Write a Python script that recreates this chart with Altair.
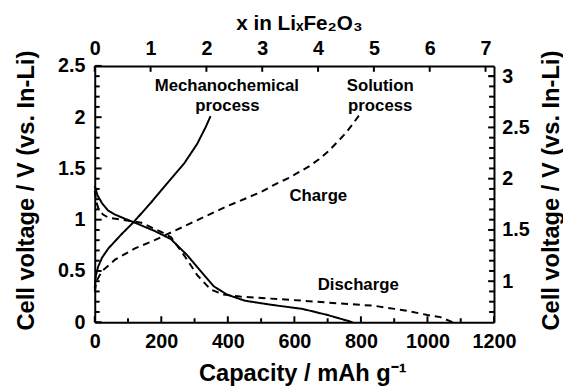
import altair as alt
import pandas as pd

# ---- data ----
# Mechanochemical process (solid lines)
mech_charge_cap = [0, 3, 10, 22, 41, 61, 81, 115, 170, 219, 269, 308, 333, 348]
mech_charge_v = [0.33, 0.45, 0.54, 0.63, 0.72, 0.79, 0.86, 0.97, 1.17, 1.36, 1.55, 1.74, 1.90, 2.01]
mech_dis_cap = [0, 8, 22, 40, 61, 90, 121, 180, 229, 279, 318, 358, 397, 451, 530, 624, 700, 775]
mech_dis_v = [1.33, 1.24, 1.16, 1.09, 1.05, 1.01, 0.97, 0.89, 0.81, 0.65, 0.50, 0.35, 0.27, 0.21, 0.17, 0.13, 0.07, 0.0]
# Solution process (dashed lines)
sol_charge_cap = [0, 5, 22, 61, 121, 180, 239, 318, 397, 456, 506, 545, 585, 644, 674, 703, 730, 753, 775, 797]
sol_charge_v = [0.30, 0.40, 0.50, 0.61, 0.72, 0.80, 0.89, 1.01, 1.13, 1.21, 1.28, 1.35, 1.41, 1.52, 1.59, 1.67, 1.76, 1.84, 1.93, 2.03]
sol_dis_cap = [0, 5, 12, 25, 41, 81, 140, 200, 229, 269, 308, 348, 387, 437, 530, 624, 750, 841, 901, 940, 1000, 1039, 1075]
sol_dis_v = [1.28, 1.17, 1.10, 1.05, 1.02, 1.00, 0.97, 0.88, 0.83, 0.65, 0.46, 0.32, 0.27, 0.25, 0.23, 0.21, 0.18, 0.16, 0.13, 0.11, 0.07, 0.05, 0.0]

# annotations (data coordinates)
ann_text = ["Mechanochemical", "process", "Solution", "process", "Charge", "Discharge"]
ann_cap = [397, 399, 858, 858, 672, 792]
ann_v = [2.30, 2.11, 2.30, 2.11, 1.23, 0.36]

# axes
cap_ticks = [0, 200, 400, 600, 800, 1000, 1200]
cap_minor = [100, 300, 500, 700, 900, 1100]
v_ticks = [0, 0.5, 1, 1.5, 2, 2.5]
v_minor = [0.1, 0.2, 0.3, 0.4, 0.6, 0.7, 0.8, 0.9, 1.1, 1.2, 1.3, 1.4,
           1.6, 1.7, 1.8, 1.9, 2.1, 2.2, 2.3, 2.4]
vr_ticks = [1, 1.5, 2, 2.5, 3]
vr_minor = [0.7, 0.8, 0.9, 1.1, 1.2, 1.3, 1.4, 1.6, 1.7, 1.8, 1.9,
            2.1, 2.2, 2.3, 2.4, 2.6, 2.7, 2.8, 2.9, 3.0]
x_ticks = [0, 1, 2, 3, 4, 5, 6, 7]
CAP_PER_LI = 167.8  # mAh/g per Li in Fe2O3
IN_LI_OFFSET = 0.6  # right-hand voltage scale = left + offset

rows = []
for name, proc, caps, vs in [
    ("mc", "Mechanochemical", mech_charge_cap, mech_charge_v),
    ("md", "Mechanochemical", mech_dis_cap, mech_dis_v),
    ("sc", "Solution", sol_charge_cap, sol_charge_v),
    ("sd", "Solution", sol_dis_cap, sol_dis_v),
]:
    for i, (c, v) in enumerate(zip(caps, vs)):
        rows.append({"curve": name, "process": proc, "cap": c, "v": v, "i": i})
df = pd.DataFrame(rows)
ann = pd.DataFrame({"txt": ann_text, "cap": ann_cap, "v": ann_v})

W, H = 405, 260
FONT = "Liberation Sans"
LBL = 20
TTL = 24

xs = alt.Scale(domain=[0, 1200], nice=False, zero=False)
ys = alt.Scale(domain=[0, 2.5], nice=False, zero=False)

common = dict(grid=False, labelFont=FONT, labelFontSize=LBL, labelFontWeight="bold",
              labelColor="black", domainColor="black", domainWidth=2, ticks=False,
              titleFont=FONT, titleFontWeight="bold", titleColor="black",
              labelOverlap=False)

lines = alt.Chart(df).mark_line(color="black", strokeWidth=2).encode(
    x=alt.X("cap:Q", scale=xs, axis=alt.Axis(
        orient="bottom", values=cap_ticks, labelFlush=False, labelPadding=10, format="d",
        title="Capacity / mAh g⁻¹", titleFontSize=TTL, titleX=W / 2 + 8, titleY=52,
        titleBaseline="middle", **common)),
    y=alt.Y("v:Q", scale=ys, axis=alt.Axis(
        orient="left", values=v_ticks, labelPadding=10, format="~g",
        title="Cell voltage / V (vs. In-Li)", titleFontSize=TTL, titleX=-69, titleY=126,
        titleAngle=270, titleBaseline="middle", **common)),
    detail="curve:N",
    order="i:Q",
    strokeDash=alt.StrokeDash("process:N", scale=alt.Scale(
        domain=["Mechanochemical", "Solution"], range=[[1, 0], [7, 5]]), legend=None),
)

texts = alt.Chart(ann).mark_text(font=FONT, fontSize=17, fontWeight="bold",
                                 color="black", baseline="middle").encode(
    x=alt.X("cap:Q", scale=xs, axis=None), y=alt.Y("v:Q", scale=ys, axis=None),
    text="txt:N")


def xticks(values, length, top=False, per_li=False):
    """Inward tick marks on the bottom (or top) frame edge, placed through the x scale."""
    caps = [round(t * CAP_PER_LI, 3) for t in values] if per_li else values
    y0 = 0 if top else H
    off = length / 2 if top else -length / 2
    return alt.Chart(pd.DataFrame({"cap": caps})).mark_tick(
        color="black", thickness=2, size=length, orient="vertical", yOffset=off,
        opacity=1).encode(
        x=alt.X("cap:Q", scale=xs, axis=None), y=alt.value(y0))


def yticks(values, length, right=False):
    """Inward tick marks on the left (or right) frame edge, placed through the y scale."""
    vs = [round(t - IN_LI_OFFSET, 3) for t in values] if right else values
    x0 = W if right else 0
    off = -length / 2 if right else length / 2
    return alt.Chart(pd.DataFrame({"v": vs})).mark_tick(
        color="black", thickness=2, size=length, orient="horizontal", xOffset=off,
        opacity=1).encode(
        y=alt.Y("v:Q", scale=ys, axis=None), x=alt.value(x0))


# right-hand axis (same scale, labels shifted by the In-Li offset)
vr_pos = [round(t - IN_LI_OFFSET, 3) for t in vr_ticks]
right_axis = alt.Chart(pd.DataFrame({"v": vr_pos})).mark_point(opacity=0).encode(
    y=alt.Y("v:Q", scale=ys, axis=alt.Axis(
        orient="right", values=vr_pos, labelPadding=8,
        labelExpr=f"format(datum.value + {IN_LI_OFFSET}, '~g')",
        title="Cell voltage / V (vs. In-Li)", titleFontSize=TTL, titleX=58,
        titleY=126, titleAngle=270, titleBaseline="middle", **common)))

# top axis: x in LixFe2O3 (same capacity scale)
xt_pos = [round(t * CAP_PER_LI, 3) for t in x_ticks]
top_axis = alt.Chart(pd.DataFrame({"cap": xt_pos})).mark_point(opacity=0).encode(
    x=alt.X("cap:Q", scale=xs, axis=alt.Axis(
        orient="top", values=xt_pos, labelFlush=False, labelPadding=8,
        labelExpr=f"format(round(datum.value / {CAP_PER_LI}), 'd')",
        title="x in LiₓFe₂O₃", titleFontSize=21, titleX=207, titleY=-43,
        titleBaseline="middle", **common)))

chart = alt.layer(
    lines, texts,
    xticks(cap_ticks, 6), xticks(cap_minor, 4),
    xticks(x_ticks, 6, top=True, per_li=True),
    yticks(v_ticks, 7), yticks(v_minor, 5),
    yticks(vr_ticks, 6, right=True), yticks(vr_minor, 5, right=True),
    right_axis, top_axis,
).resolve_axis(x="independent", y="independent").properties(
    width=W, height=H, autosize="none",
    padding={"left": 88, "top": 56, "right": 70, "bottom": 64},
    background="white",
).configure_view(stroke=None)

chart.save("out.html", embed_options={"renderer": "svg", "actions": False})
